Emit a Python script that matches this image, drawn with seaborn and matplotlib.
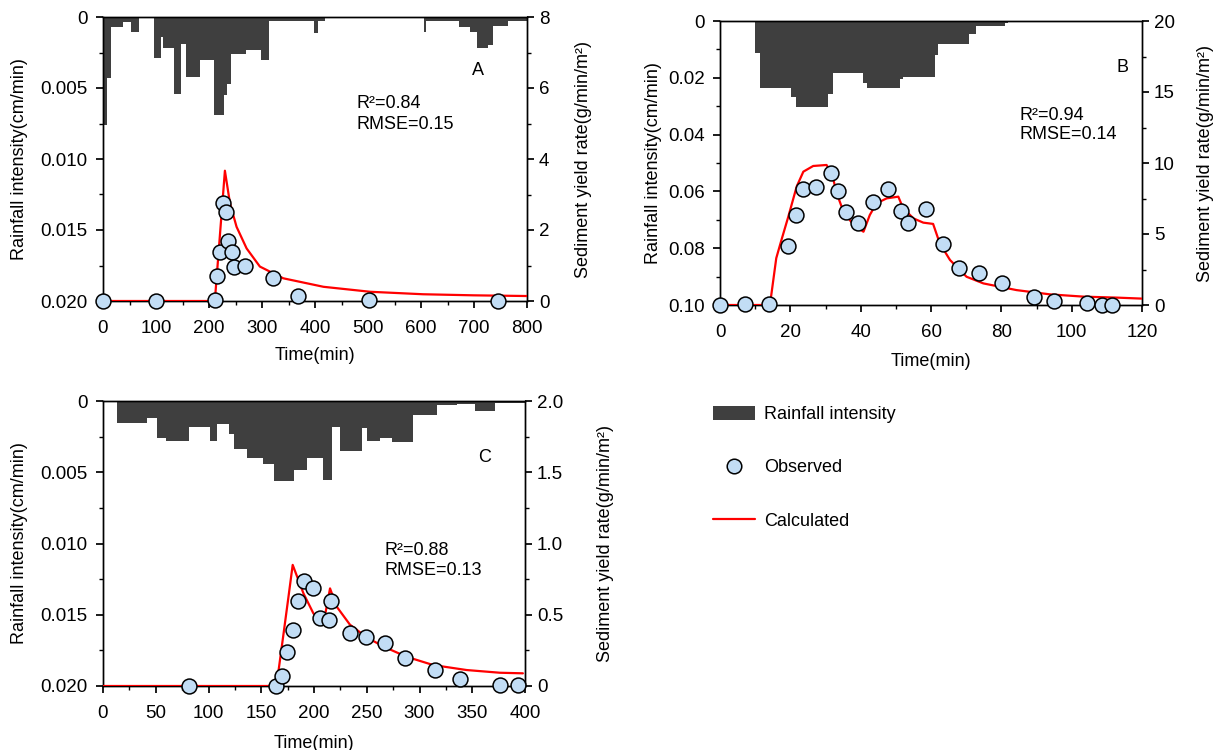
import numpy as np
import pandas as pd
import matplotlib
matplotlib.use("Agg")
import matplotlib.pyplot as plt
import seaborn as sns
from matplotlib.patches import Patch
from matplotlib.lines import Line2D
from matplotlib.ticker import FixedLocator, MultipleLocator

# ---------------- data ----------------
# Panel A rainfall (step profile: edges in min, intensity in cm/min)
rainA_edges = [0, 8, 16, 38, 53, 67, 97, 109, 113, 134, 148, 157, 183, 209, 229, 234, 241,
               270, 298, 314, 398, 406, 419, 606, 609, 671, 693, 705, 727, 736, 764, 800]
rainA_vals = [0.0076, 0.0043, 0.0007, 0.00035, 0.00106, 0.0, 0.0029, 0.0014, 0.0022, 0.0054,
              0.0019, 0.0042, 0.0030, 0.0069, 0.0055, 0.0047, 0.0026, 0.0023, 0.0030, 0.0003,
              0.0011, 0.0003, 0.0, 0.00106, 0.0003, 0.0007, 0.00106, 0.0022, 0.0020, 0.0006, 0.0003]
obsA_t = [0, 100, 211, 214.5, 220.8, 227, 233, 235, 242.8, 247.8, 268, 320, 368.5, 502.5, 746]
obsA_y = [0, 0, 0.02, 0.70, 1.37, 2.77, 2.50, 1.69, 1.37, 0.97, 0.99, 0.66, 0.14, 0.02, 0.01]
calcA_t = [0, 211, 230, 239.6, 252, 271, 296, 340, 416, 504, 604, 699, 800]
calcA_y = [0, 0, 3.67, 2.75, 2.09, 1.48, 0.97, 0.64, 0.40, 0.26, 0.19, 0.16, 0.14]

# Panel B
rainB_edges = [10, 11.4, 20.1, 21.5, 30.8, 32.2, 40.8, 41.7, 51.2, 52.1, 61.1, 62, 70.9, 72.8, 81, 82]
rainB_vals = [0.0114, 0.0235, 0.0266, 0.0302, 0.0257, 0.0184, 0.0219, 0.0237, 0.0204, 0.0196,
              0.0120, 0.0082, 0.0046, 0.0016, 0.0008]
obsB_t = [0, 7, 14, 19.4, 21.5, 23.7, 27.3, 31.5, 33.5, 35.7, 39.3, 43.6, 47.9, 51.5, 53.5,
          58.6, 63.5, 68.0, 73.7, 80.1, 89.4, 95.0, 104.3, 108.7, 111.5]
obsB_y = [0, 0.05, 0.07, 4.18, 6.34, 8.15, 8.29, 9.27, 8.05, 6.57, 5.80, 7.28, 8.17, 6.62, 5.80,
          6.74, 4.27, 2.58, 2.28, 1.57, 0.54, 0.31, 0.17, 0.0, 0.0]
calcB_t = [0, 14.2, 16, 17.5, 19.4, 21.8, 23.7, 26.5, 30.3, 31.8, 33.2, 35.1, 38.0, 40.8, 42.6,
           44.5, 47.4, 50.7, 52.1, 55.0, 57.8, 60.6, 62.5, 65.4, 70.1, 74.9, 84.3, 93.8, 103.3, 112.8, 120]
calcB_y = [0, 0, 3.3, 4.6, 6.2, 8.34, 9.39, 9.79, 9.86, 9.27, 7.86, 6.57, 5.63, 5.16, 6.34,
           7.16, 7.51, 7.63, 6.81, 6.1, 5.8, 5.71, 4.34, 3.17, 1.99, 1.52, 1.05, 0.75, 0.59, 0.52, 0.45]

# Panel C
rainC_edges = [13.6, 41.4, 50.9, 59.7, 81.8, 101.4, 108.4, 119.8, 124.2, 136.2, 152, 162, 181,
               193.7, 208.2, 216.8, 224.7, 245.2, 250, 262.6, 273.6, 293.5, 316.9, 335.2, 352.6, 371.6, 400]
rainC_vals = [0.00152, 0.00122, 0.00257, 0.00281, 0.00183, 0.0028, 0.00159, 0.00234, 0.00337,
              0.00402, 0.00444, 0.00562, 0.00485, 0.00402, 0.00555, 0.0018, 0.00351, 0.00192,
              0.0028, 0.00262, 0.0029, 0.00098, 0.00028, 0.00023, 0.0007, 0.00017]
obsC_t = [81.8, 164, 169.4, 174.1, 180.4, 184.5, 190.8, 198.7, 205.7, 214.5, 215.8, 234.1,
          249.3, 267.3, 286.3, 314.7, 338.4, 376.3, 393.7]
obsC_y = [0, 0, 0.07, 0.24, 0.39, 0.60, 0.74, 0.685, 0.475, 0.463, 0.60, 0.374, 0.342, 0.30,
          0.199, 0.112, 0.047, 0.005, 0.005]
calcC_t = [0, 160, 164.6, 171, 175.7, 179.8, 190, 199.4, 208.8, 215.2, 221.5, 234.1, 249.9,
           265.7, 287.8, 313, 344.7, 376.3, 398]
calcC_y = [0, 0, 0.01, 0.36, 0.62, 0.85, 0.65, 0.51, 0.43, 0.685, 0.557, 0.43, 0.342, 0.277,
           0.205, 0.147, 0.112, 0.093, 0.089]

# tick labels
rain_ticks_AC = [0, 0.005, 0.010, 0.015, 0.020]
rain_labels_AC = ["0", "0.005", "0.010", "0.015", "0.020"]
rain_ticks_B = [0, 0.02, 0.04, 0.06, 0.08, 0.10]
rain_labels_B = ["0", "0.02", "0.04", "0.06", "0.08", "0.10"]
sed_labels_C = ["0", "0.5", "1.0", "1.5", "2.0"]

# ---------------- style ----------------
sns.set_theme(style="ticks")
plt.rcParams["font.family"] = ["Liberation Sans", "DejaVu Sans"]
FS = 13
TFS = 13.5
plt.rcParams.update({
    "font.size": FS, "axes.labelsize": FS, "xtick.labelsize": TFS, "ytick.labelsize": TFS,
    "text.color": "black", "axes.labelcolor": "black",
    "axes.edgecolor": "black", "axes.linewidth": 1.0,
    "xtick.color": "black", "ytick.color": "black",
    "xtick.major.size": 5, "ytick.major.size": 5, "xtick.minor.size": 3, "ytick.minor.size": 3,
    "xtick.direction": "out", "ytick.direction": "out",
    "xtick.major.pad": 8.5, "ytick.major.pad": 6,
})

BAR = "#3f3f3f"
FACE = "#c2ddf5"
RED = "#ff0000"

fig = plt.figure(figsize=(12.2, 7.5), dpi=100)


def panel(rect, edges, vals, ot, oy, ct, cy, xmax, xmajor, xminor, rmax, rticks, rlabels,
          smax, smajor, sminor, slabels, letter, letter_pos, stats, stats_pos, lab_pos):
    ax = fig.add_axes(rect)
    edges = np.asarray(edges, dtype=float)
    ax.bar(edges[:-1], vals, width=np.diff(edges), align="edge", color=BAR, linewidth=0)
    ax.set_xlim(0, xmax)
    ax.set_ylim(rmax, 0)
    ax.yaxis.set_major_locator(FixedLocator(rticks))
    ax.set_yticklabels(rlabels)
    ax.yaxis.set_minor_locator(MultipleLocator(rticks[1] / 2))
    ax.xaxis.set_major_locator(MultipleLocator(xmajor))
    ax.xaxis.set_minor_locator(MultipleLocator(xminor))
    ax.set_xlabel("Time(min)")
    ax.set_ylabel("Rainfall intensity(cm/min)")
    ax.xaxis.set_label_coords(0.5, lab_pos[0])
    ax.yaxis.set_label_coords(lab_pos[1], 0.5)

    ax2 = ax.twinx()
    sns.lineplot(x=ct, y=cy, ax=ax2, color=RED, linewidth=1.6, estimator=None, sort=False,
                 zorder=3)
    sns.scatterplot(x=ot, y=oy, ax=ax2, s=115, color=FACE, edgecolor="black", linewidth=1.1,
                    zorder=4, clip_on=False)
    ax2.set_ylim(0, smax)
    ax2.set_xlim(0, xmax)
    ax2.yaxis.set_major_locator(MultipleLocator(smajor))
    ax2.yaxis.set_minor_locator(MultipleLocator(sminor))
    if slabels is not None:
        ax2.set_yticks(np.arange(0, smax + smajor / 2, smajor))
        ax2.set_yticklabels(slabels)
    ax2.tick_params(axis="y", which="major", pad=3.5)
    ax2.set_ylabel("Sediment yield rate(g/min/m²)")
    ax2.yaxis.set_label_coords(lab_pos[2], 0.5)
    ax2.grid(False)
    ax.grid(False)
    for s in ax2.spines.values():
        s.set_color("black")

    ax.text(letter_pos[0], letter_pos[1], letter, transform=ax.transAxes, ha="center",
            va="center", fontsize=FS)
    ax.text(stats_pos[0], stats_pos[1], stats[0], transform=ax.transAxes, ha="left",
            va="center", fontsize=FS)
    ax.text(stats_pos[0], stats_pos[2], stats[1], transform=ax.transAxes, ha="left",
            va="center", fontsize=FS)
    return ax, ax2


W, H = 1220.0, 750.0


def rect(l, r, t, b):
    return [l / W, 1 - b / H, (r - l) / W, (b - t) / H]


panel(rect(103, 527, 17, 301), rainA_edges, rainA_vals, obsA_t, obsA_y, calcA_t, calcA_y,
      800, 100, 50, 0.020, rain_ticks_AC, rain_labels_AC, 8, 2, 1, None,
      "A", (0.884, 0.813), ("R²=0.84", "RMSE=0.15"), (0.599, 0.697, 0.623),
      (-0.162, -0.177, 1.113))

panel(rect(720, 1142, 21, 305), rainB_edges, rainB_vals, obsB_t, obsB_y, calcB_t, calcB_y,
      120, 20, 10, 0.10, rain_ticks_B, rain_labels_B, 20, 5, 2.5, None,
      "B", (0.953, 0.838), ("R²=0.94", "RMSE=0.14"), (0.709, 0.669, 0.602),
      (-0.169, -0.137, 1.130))

panel(rect(103, 525, 401, 686), rainC_edges, rainC_vals, obsC_t, obsC_y, calcC_t, calcC_y,
      400, 50, 25, 0.020, rain_ticks_AC, rain_labels_AC, 2.0, 0.5, 0.25, sed_labels_C,
      "C", (0.905, 0.80), ("R²=0.88", "RMSE=0.13"), (0.668, 0.477, 0.404),
      (-0.172, -0.178, 1.171))

handles = [
    Patch(facecolor=BAR, edgecolor="none"),
    Line2D([], [], linestyle="none", marker="o", markersize=10.5, markerfacecolor=FACE,
           markeredgecolor="black", markeredgewidth=1.1),
    Line2D([], [], color=RED, linewidth=1.6),
]
labels = ["Rainfall intensity", "Observed", "Calculated"]
fig.legend(handles, labels, loc="upper left", bbox_to_anchor=(713 / W, 1 - 406 / H),
           frameon=False, borderpad=0, borderaxespad=0, handlelength=2.3, handleheight=0.8,
           handletextpad=0.55, labelspacing=2.0, fontsize=FS)

fig.savefig("out.png", dpi=100)
